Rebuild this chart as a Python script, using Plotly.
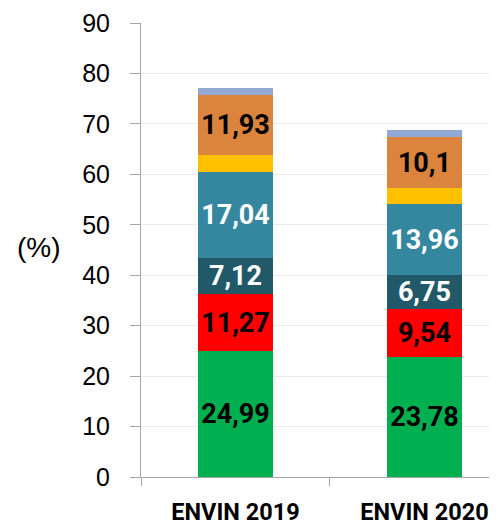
import plotly.graph_objects as go

categories = ["ENVIN 2019", "ENVIN 2020"]
series_names = ["s1", "s2", "s3", "s4", "s5", "s6", "s7"]
green = [24.99, 23.78]
red = [11.27, 9.54]
dark_teal = [7.12, 6.75]
teal = [17.04, 13.96]
yellow = [3.4, 3.2]
orange = [11.93, 10.1]
light_blue = [1.3, 1.5]

series = [
    (green, "#00B050", "black", True),
    (red, "#FF0000", "black", True),
    (dark_teal, "#215968", "white", True),
    (teal, "#34879F", "white", True),
    (yellow, "#FFC000", "black", False),
    (orange, "#DA843E", "black", True),
    (light_blue, "#93A9D5", "black", False),
]

LABEL_FONT = "Roboto"

fig = go.Figure()
for (vals, col, tcol, show), name in zip(series, series_names):
    fig.add_trace(go.Bar(
        x=categories, y=vals, name=name,
        marker=dict(color=col, line=dict(width=0)),
        text=[str(v).replace(".", ",") for v in vals] if show else None,
        textposition="inside" if show else "none",
        insidetextanchor="middle",
        textangle=0,
        textfont=dict(color=tcol, size=27, family=LABEL_FONT, weight="bold"),
        constraintext="none",
        width=0.4,
    ))

fig.update_layout(
    barmode="stack",
    width=489, height=518,
    margin=dict(l=133, r=0, t=15, b=49),
    paper_bgcolor="white", plot_bgcolor="white",
    showlegend=False,
    uniformtext=dict(mode=False),
    font=dict(family="Liberation Sans", color="black"),
)
fig.update_yaxes(
    range=[0, 90], dtick=10,
    showgrid=True, gridcolor="#EBEBEB", gridwidth=1,
    showline=True, linecolor="#A6A6A6", linewidth=1,
    ticks="outside", ticklen=10, tickcolor="#A6A6A6",
    tickfont=dict(size=25, family="Liberation Sans", color="black"),
    ticklabelstandoff=15,
    zeroline=False,
)
fig.update_xaxes(
    range=[-0.5, 1.384],
    tickson="boundaries",
    showline=True, linecolor="#A6A6A6", linewidth=1,
    ticks="outside", ticklen=8, tickcolor="#A6A6A6",
    tickfont=dict(size=23.5, family="Roboto", color="black", weight="bold"),
    ticklabelstandoff=14,
)
fig.add_annotation(
    text="(%)", showarrow=False,
    xref="x domain", yref="y domain",
    x=(39 - 141) / 356, y=(477 - 248) / 454, xanchor="center", yanchor="middle",
    font=dict(size=28, family="Liberation Sans", color="black"),
)

fig.write_html("out.html")
